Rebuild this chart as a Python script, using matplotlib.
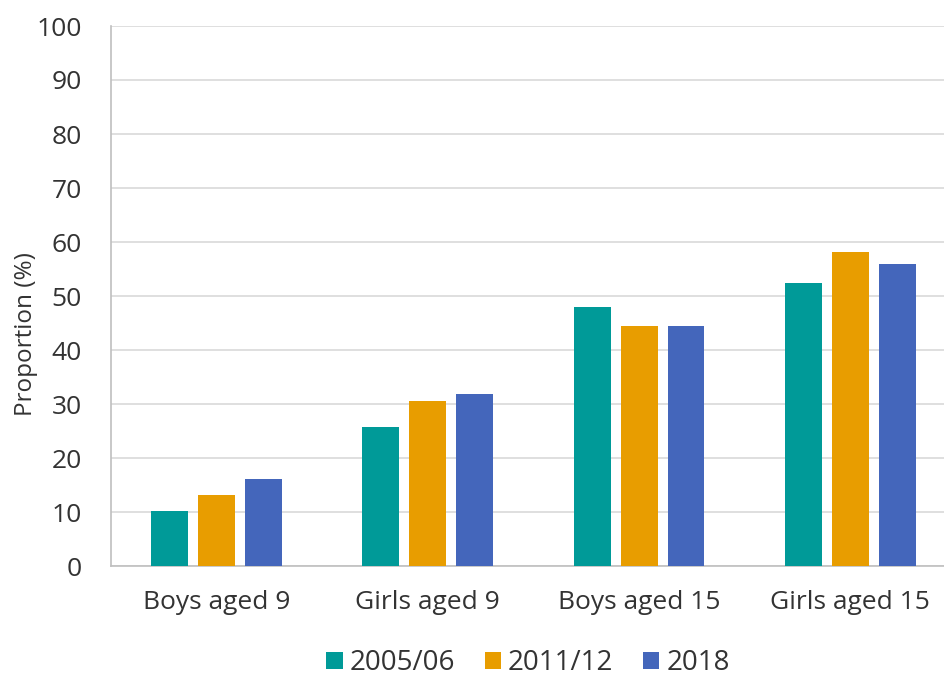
import matplotlib.pyplot as plt
import numpy as np

plt.rcParams['font.family'] = ['Open Sans', 'DejaVu Sans']

# proportion by group and survey year
groups = ['Boys aged 9', 'Girls aged 9', 'Boys aged 15', 'Girls aged 15']
years = ['2005/06', '2011/12', '2018']
v2005 = [10.2, 25.7, 48.0, 52.4]
v2011 = [13.1, 30.5, 44.4, 58.2]
v2018 = [16.1, 31.9, 44.4, 55.9]
colors = ['#009a98', '#e89d00', '#4466bb']
txt = '#333333'

fig = plt.figure(figsize=(9.45, 6.86), dpi=100)
ax = fig.add_axes([111/945, 1 - 566/686, 1 - 111/945, (566 - 26)/686])

x = np.arange(len(groups))
w = 0.175
step = 0.222
for i, (vals, lab) in enumerate(zip([v2005, v2011, v2018], years)):
    ax.bar(x + (i - 1)*step, vals, w, color=colors[i], label=lab, zorder=3)

ax.set_ylim(0, 100)
ax.set_yticks(range(0, 101, 10))
ax.set_xlim(-0.5, 3.448)
ax.set_xticks(x)
ax.set_xticklabels(groups)
ax.grid(axis='y', color='#d9d9d9', lw=1.2, zorder=0)
for s in ['top', 'right']:
    ax.spines[s].set_visible(False)
for s in ['left', 'bottom']:
    ax.spines[s].set_color('#bfbfbf')
    ax.spines[s].set_linewidth(1.2)
ax.tick_params(length=0, labelsize=19, colors=txt)
ax.tick_params(axis='x', pad=17)
ax.tick_params(axis='y', pad=21)
ax.set_ylabel('Proportion (%)', fontsize=17.5, color=txt)
ax.yaxis.set_label_coords(-0.088, 0.43)

ax.legend(loc='center', bbox_to_anchor=(0.5, -0.18), ncol=3, frameon=False,
          fontsize=20, handlelength=0.6, handleheight=0.6, handletextpad=0.25,
          columnspacing=1.05, labelcolor=txt)

fig.savefig('out.png', dpi=100)
